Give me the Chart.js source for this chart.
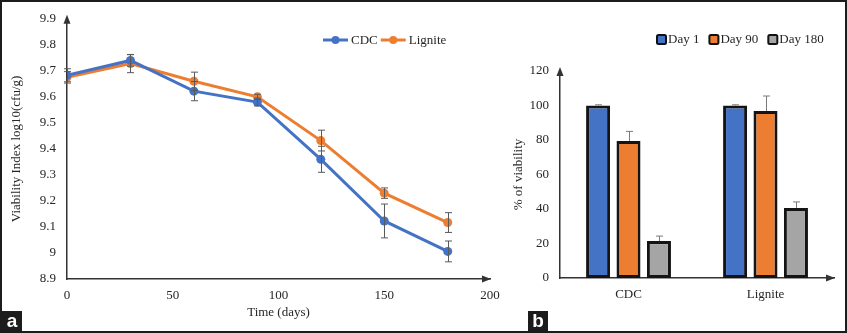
<!DOCTYPE html>
<html>
<head>
<meta charset="utf-8">
<script src="https://cdn.jsdelivr.net/npm/chart.js@4.4.1/dist/chart.umd.min.js"></script>
<style>
  html, body { margin: 0; padding: 0; background: #fff; }
  #page { position: relative; width: 847px; height: 333px; overflow: hidden; }
  canvas { position: absolute; top: 0; }
  #c1 { left: 0; }
  #c2 { left: 500px; }
  .frame { position: absolute; left: 0; top: 0; width: 847px; height: 333px;
           box-sizing: border-box; border: 2px solid #1c1c1c; pointer-events: none; }
  .tag { position: absolute; top: 311px; width: 20px; height: 20px; background: #1c1c1c;
         color: #fff; font: bold 19px "Liberation Sans", Arial, sans-serif;
         text-align: center; line-height: 19px; }
</style>
</head>
<body>
<div id="page">
  <canvas id="c1" width="520" height="333"></canvas>
  <canvas id="c2" width="347" height="333"></canvas>
  <div class="tag" style="left:2px">a</div>
  <div class="tag" style="left:528px">b</div>
  <div class="frame"></div>
</div>
<script>
// ---- data, panel a ----
const days = [0, 30, 60, 90, 120, 150, 180];
const cdcViability = [9.683, 9.74, 9.622, 9.58, 9.36, 9.123, 9.006];
const cdcErr = [0.025, 0.022, 0.037, 0.015, 0.05, 0.065, 0.04];
const ligniteViability = [9.675, 9.728, 9.66, 9.60, 9.432, 9.23, 9.117];
const ligniteErr = [0.022, 0.035, 0.035, 0.01, 0.04, 0.02, 0.038];

// ---- data, panel b ----
const carriers = ['CDC', 'Lignite'];
const day1 = [100, 100];
const day1Err = [0.4, 0.4];
const day90 = [79.4, 96.8];
const day90Err = [5.6, 8.7];
const day180 = [21.4, 40.6];
const day180Err = [2.9, 3.5];

const SERIF = '"Liberation Serif", "Times New Roman", serif';
const INK = '#262626';
const BLUE = '#4472C4', ORANGE = '#ED7D31', GREY = '#A5A5A5';

Chart.defaults.font.family = SERIF;
Chart.defaults.font.size = 13;
Chart.defaults.color = INK;

// error bars drawn through the y scale
const errorBars = {
  id: 'errorBars',
  afterDatasetsDraw(chart, args, opts) {
    const ctx = chart.ctx;
    const ys = chart.scales.y;
    ctx.save();
    ctx.strokeStyle = opts.color;
    ctx.lineWidth = 1;
    chart.data.datasets.forEach((ds, i) => {
      const meta = chart.getDatasetMeta(i);
      meta.data.forEach((el, j) => {
        const raw = ds.data[j];
        const v = typeof raw === 'object' ? raw.y : raw;
        const e = ds.errors[j];
        const x = Math.round(el.x) + 0.5;
        const top = ys.getPixelForValue(v + e);
        const bot = opts.upOnly ? ys.getPixelForValue(v) : ys.getPixelForValue(v - e);
        const w = opts.cap;
        ctx.beginPath();
        ctx.moveTo(x, top); ctx.lineTo(x, bot);
        ctx.moveTo(x - w, top); ctx.lineTo(x + w, top);
        if (!opts.upOnly) { ctx.moveTo(x - w, bot); ctx.lineTo(x + w, bot); }
        ctx.stroke();
      });
    });
    ctx.restore();
  }
};

// arrow heads at the ends of both axes
const axisArrows = {
  id: 'axisArrows',
  afterDraw(chart) {
    const {ctx, chartArea: a} = chart;
    ctx.save();
    ctx.fillStyle = '#333';
    ctx.beginPath();
    ctx.moveTo(a.left, a.top - 4); ctx.lineTo(a.left - 3.5, a.top + 5); ctx.lineTo(a.left + 3.5, a.top + 5);
    ctx.closePath(); ctx.fill();
    ctx.beginPath();
    ctx.moveTo(a.right + 1, a.bottom); ctx.lineTo(a.right - 8, a.bottom - 3.5); ctx.lineTo(a.right - 8, a.bottom + 3.5);
    ctx.closePath(); ctx.fill();
    ctx.restore();
  }
};

// legend painted inside the plot
const innerLegend = {
  id: 'innerLegend',
  afterDraw(chart, args, opts) {
    const ctx = chart.ctx;
    ctx.save();
    ctx.font = '13px ' + SERIF;
    ctx.textBaseline = 'middle';
    let x = opts.x;
    const y = opts.y;
    chart.data.datasets.forEach(ds => {
      if (opts.kind === 'line') {
        ctx.strokeStyle = ds.borderColor; ctx.lineWidth = 3;
        ctx.beginPath(); ctx.moveTo(x, y); ctx.lineTo(x + 25, y); ctx.stroke();
        ctx.fillStyle = ds.borderColor;
        ctx.beginPath(); ctx.arc(x + 12.5, y, 4, 0, Math.PI * 2); ctx.fill();
        x += 28;
      } else {
        ctx.fillStyle = ds.backgroundColor;
        ctx.strokeStyle = '#111'; ctx.lineWidth = 2;
        ctx.beginPath(); ctx.roundRect(x + 1, y - 4, 9, 9, 1.5); ctx.fill(); ctx.stroke();
        x += 12;
      }
      ctx.fillStyle = INK;
      ctx.fillText(ds.label, x, y + 1);
      x += ctx.measureText(ds.label).width + opts.gap;
    });
    ctx.restore();
  }
};

new Chart(document.getElementById('c1'), {
  type: 'line',
  data: {
    datasets: [
      { label: 'CDC', data: days.map((d, i) => ({x: d, y: cdcViability[i]})), errors: cdcErr,
        borderColor: BLUE, backgroundColor: BLUE, borderWidth: 3, pointRadius: 4.5, pointBorderWidth: 0 },
      { label: 'Lignite', data: days.map((d, i) => ({x: d, y: ligniteViability[i]})), errors: ligniteErr,
        borderColor: ORANGE, backgroundColor: ORANGE, borderWidth: 3, pointRadius: 4.5, pointBorderWidth: 0 }
    ]
  },
  options: {
    responsive: false,
    animation: false,
    layout: { padding: { left: 0, top: 16, right: 30, bottom: 0 } },
    plugins: {
      legend: { display: false },
      tooltip: { enabled: false },
      errorBars: { color: '#595959', cap: 3.5, upOnly: false },
      innerLegend: { kind: 'line', x: 323, y: 40, gap: 3 }
    },
    scales: {
      x: {
        type: 'linear', min: 0, max: 200,
        ticks: { stepSize: 50, padding: 9 },
        grid: { display: false, drawTicks: false },
        border: { color: '#333', width: 1.5 },
        title: { display: true, text: 'Time (days)', padding: { top: 0, bottom: 13 } },
        afterFit: s => { s.height = 54; }
      },
      y: {
        min: 8.9, max: 9.9,
        ticks: { stepSize: 0.1, padding: 11, callback: v => String(+v.toFixed(1)) },
        grid: { display: false, drawTicks: false },
        border: { color: '#333', width: 1.5 },
        title: { display: true, text: 'Viability Index log10(cfu/g)', padding: { top: 9, bottom: 0 } },
        afterFit: s => { s.width = 67; }
      }
    }
  },
  plugins: [errorBars, axisArrows, innerLegend]
});

const barStyle = { borderColor: '#141414', borderWidth: 3, borderSkipped: false,
                   categoryPercentage: 0.666, barPercentage: 0.79 };

new Chart(document.getElementById('c2'), {
  type: 'bar',
  data: {
    labels: carriers,
    datasets: [
      Object.assign({ label: 'Day 1', data: day1, errors: day1Err, backgroundColor: BLUE }, barStyle),
      Object.assign({ label: 'Day 90', data: day90, errors: day90Err, backgroundColor: ORANGE }, barStyle),
      Object.assign({ label: 'Day 180', data: day180, errors: day180Err, backgroundColor: GREY }, barStyle)
    ]
  },
  options: {
    responsive: false,
    animation: false,
    layout: { padding: { left: 0, top: 71, right: 13, bottom: 0 } },
    plugins: {
      legend: { display: false },
      tooltip: { enabled: false },
      errorBars: { color: '#7a7a7a', cap: 3.5, upOnly: true },
      innerLegend: { kind: 'box', x: 156, y: 39, gap: 9 }
    },
    scales: {
      x: {
        ticks: { padding: 9 },
        grid: { display: false, drawTicks: false },
        border: { color: '#333', width: 1.5 },
        afterFit: s => { s.height = 55; }
      },
      y: {
        min: 0, max: 120,
        ticks: { stepSize: 20, padding: 11 },
        grid: { display: false, drawTicks: false },
        border: { color: '#333', width: 1.5 },
        title: { display: true, text: '% of viability', padding: { top: 11, bottom: 0 } },
        afterFit: s => { s.width = 60; }
      }
    }
  },
  plugins: [errorBars, axisArrows, innerLegend]
});
</script>
</body>
</html>
